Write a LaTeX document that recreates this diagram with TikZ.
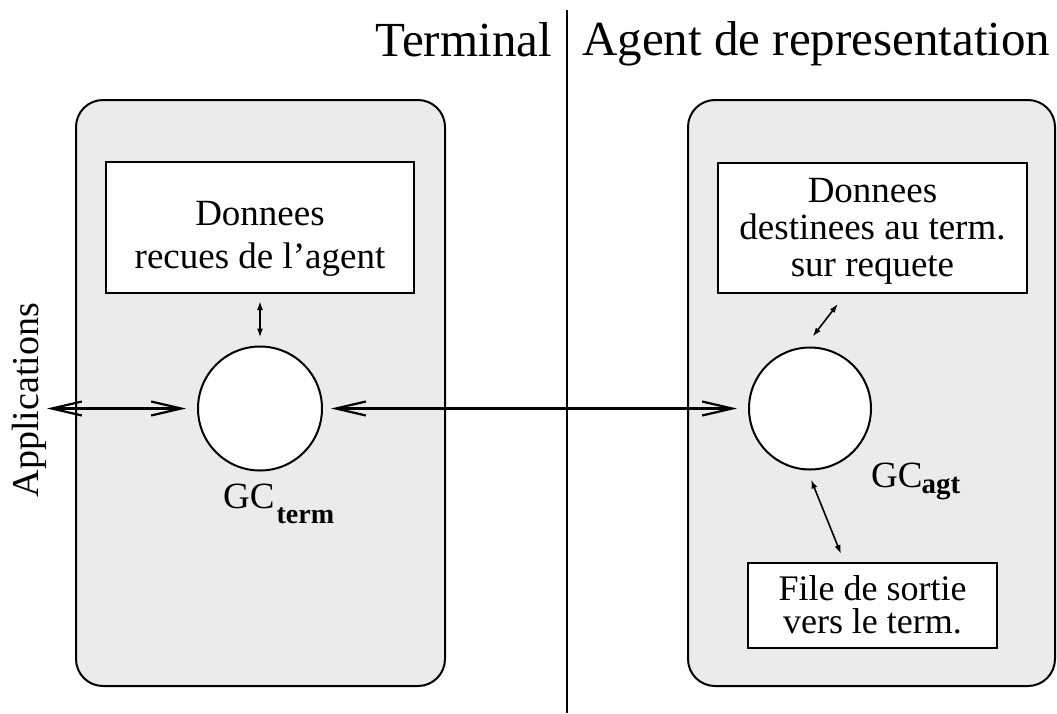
\documentclass[tikz,border=0pt]{standalone}
\usepackage{fontspec}
\setmainfont{Liberation Serif}
\usetikzlibrary{arrows.meta,calc}
\begin{document}
\begin{tikzpicture}[x=1pt,y=-1pt,
  panel/.style={draw, line width=2pt, rounded corners=27pt, fill=black!8,
    minimum width=#1, minimum height=586pt, inner sep=0pt},
  dbox/.style={draw, line width=2pt, fill=white, inner sep=0pt},
  btxt/.style={align=center, inner sep=0pt},
  gcirc/.style={draw, circle, line width=2pt, fill=white, inner sep=0pt, minimum size=#1},
  hdr/.style={inner sep=0pt, font=\fontsize{49}{58}\selectfont},
  bigarrow/.style={line width=2.2pt, >={Straight Barb[length=30pt,width=14pt]}, <->},
  smallarrow/.style={line width=1.6pt, >={Latex[length=9pt,width=6pt]}, <->}
]
\useasboundingbox (0,0) rectangle (1057,713);

% the two sides: terminal and representation agent
\node[panel=369pt] (tp) at (260.5,393) {};
\node[panel=367pt] (ap) at (871.5,393) {};

% separator and headings
\coordinate (dtop) at (567,10);
\coordinate (dbot) at (567,713);
\draw[line width=1.6pt] (dtop) -- (dbot);
\node[hdr, anchor=base east] (term) at (552,56) {Terminal};
\node[hdr, anchor=base west] (agent) at (582,55) {Agent de representation};

% data stores
\node[dbox, minimum width=308pt, minimum height=131pt] (dl) at (260,227.5) {};
\node[btxt, font=\fontsize{37}{43}\selectfont] (dltxt) at (260,239) {Donnees\\recues de l'agent};

\node[dbox, minimum width=309pt, minimum height=130pt] (dr) at (872.5,228) {};
\node[btxt, font=\fontsize{37}{37}\selectfont] (drtxt) at (872.5,231.5) {Donnees\\destinees au term.\\sur requete};

\node[dbox, minimum width=249pt, minimum height=85pt] (fr) at (872.5,605.5) {};
\node[btxt, font=\fontsize{36}{33}\selectfont] (frtxt) at (872.5,605) {File de sortie\\vers le term.};

% communication managers
\node[gcirc=124pt] (lc) at (260,408.5) {};
\node[gcirc=122pt] (rc) at (810,408.5) {};
\node[anchor=base west, inner sep=0pt, font=\fontsize{37}{37}\selectfont] (gct) at (223,508)
  {GC\kern2pt\raisebox{-15pt}{\fontsize{28}{28}\selectfont\bfseries term}};
\node[anchor=base west, inner sep=0pt, font=\fontsize{37}{37}\selectfont] (gca) at (871,487)
  {GC\kern-1pt\raisebox{-6pt}{\fontsize{29}{29}\selectfont\bfseries agt}};

% applications side
\node[rotate=90, anchor=base, inner sep=0pt, font=\fontsize{38}{38}\selectfont] (apps) at (38,400) {Applications};
\coordinate (appin) at (47,408.5);

% exchanges
\draw[bigarrow, shorten >=11pt] (appin) -- (lc);
\draw[bigarrow, shorten <=8pt, shorten >=11pt] (lc) -- (rc);
\draw[smallarrow, shorten <=7pt, shorten >=8pt] (dl.south) -- (lc.north);
\draw[smallarrow, shorten <=12.5pt, shorten >=12.5pt] ([xshift=-5pt]rc.north) -- ([xshift=-27pt]dr.south);
\draw[smallarrow, shorten <=9.7pt, shorten >=8.6pt] ([xshift=-2.6pt]rc.south) -- ([xshift=-28.3pt]fr.north);
\end{tikzpicture}
\end{document}
